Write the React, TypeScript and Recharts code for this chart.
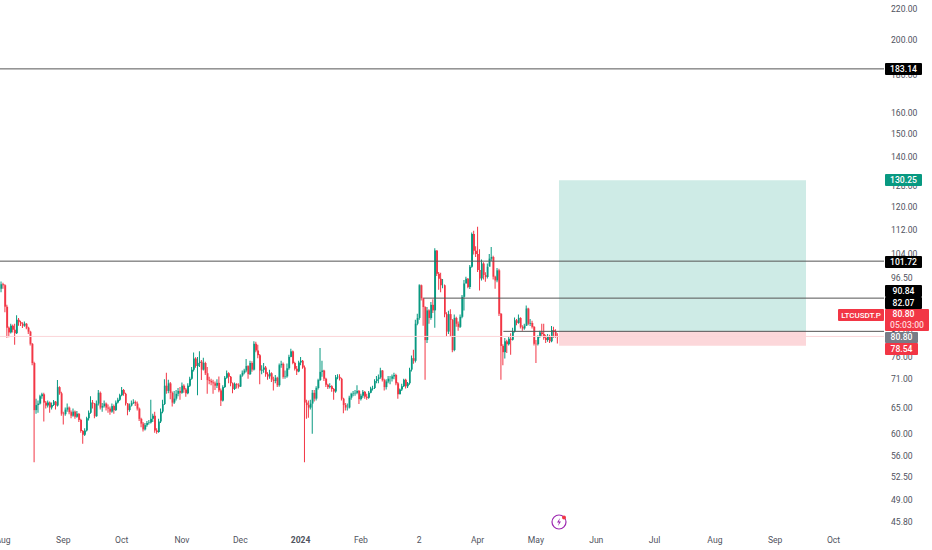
import React from "react";
import {
  ComposedChart,
  Bar,
  Cell,
  XAxis,
  YAxis,
  ReferenceLine,
  ReferenceArea,
} from "recharts";

const FIRST_OPEN = 93.5;

// daily closes
const closes = [
  94.8, 94.5, 88.5, 83.0, 81.8, 83.5, 82.5, 81.6, 85.0, 84.4,
  84.0, 83.5, 84.0, 83.0, 82.0, 79.0, 74.5, 64.5, 65.5, 65.8,
  67.3, 67.7, 66.0, 65.4, 66.0, 65.0, 65.5, 66.2, 65.4, 69.2,
  67.9, 63.8, 63.7, 64.6, 65.0, 64.1, 63.4, 64.2, 63.2, 63.8,
  62.6, 60.5, 59.8, 60.6, 62.9, 64.0, 66.0, 65.8, 63.3, 65.8,
  68.0, 65.0, 65.3, 65.8, 65.0, 64.8, 64.2, 65.3, 64.5, 66.0,
  66.6, 67.5, 68.6, 67.8, 65.8, 64.5, 65.4, 65.9, 66.1, 65.8,
  64.8, 62.8, 61.9, 60.8, 61.6, 62.0, 62.1, 62.8, 63.4, 60.6,
  60.3, 62.3, 64.2, 65.7, 69.5, 68.4, 70.0, 68.0, 66.0, 66.8,
  67.8, 68.4, 68.0, 69.5, 68.7, 67.9, 69.5, 71.0, 73.0, 75.5,
  73.8, 74.5, 74.8, 73.0, 74.5, 72.2, 70.7, 70.5, 70.2, 70.0,
  69.5, 70.1, 68.5, 66.4, 69.2, 71.2, 72.2, 71.4, 70.0, 68.8,
  69.9, 69.7, 69.3, 71.7, 72.3, 72.8, 73.8, 72.0, 74.5, 73.0,
  79.0, 77.4, 76.3, 72.8, 73.0, 73.5, 72.0, 71.5, 72.2, 70.8,
  70.5, 71.2, 69.6, 74.0, 74.3, 71.4, 71.5, 73.3, 75.9, 77.2,
  74.5, 73.2, 72.6, 74.6, 75.0, 73.5, 66.0, 65.5, 65.0, 65.8,
  68.0, 66.8, 69.0, 70.7, 72.5, 72.8, 71.0, 69.7, 69.2, 69.4,
  68.8, 68.3, 71.3, 71.4, 71.0, 66.8, 65.5, 65.0, 65.0, 67.0,
  67.8, 67.9, 68.0, 68.4, 66.7, 67.4, 68.2, 67.2, 67.0, 68.0,
  68.9, 69.0, 70.5, 70.9, 71.3, 72.8, 70.7, 69.2, 70.4, 71.0,
  71.0, 71.5, 71.8, 70.0, 67.7, 68.7, 69.4, 70.8, 69.4, 70.0,
  73.0, 75.6, 75.0, 84.0, 85.5, 94.5, 90.8, 88.4, 79.9, 87.5,
  85.5, 89.0, 87.5, 105.1, 97.9, 96.4, 94.5, 94.5, 86.5, 82.0,
  86.5, 85.0, 77.5, 85.5, 84.0, 83.2, 85.8, 91.2, 95.0, 96.4,
  94.0, 100.0, 110.5, 105.0, 104.0, 99.0, 96.5, 101.0, 97.5, 96.9,
  100.0, 102.5, 103.0, 97.0, 95.9, 98.9, 86.6, 78.5, 77.0, 79.6,
  78.9, 80.2, 80.0, 82.0, 84.9, 84.2, 85.5, 83.2, 82.8, 83.5,
  88.0, 84.0, 84.2, 83.2, 79.0, 78.9, 80.7, 81.8, 81.4, 80.5,
  79.9, 80.7, 79.6, 82.4, 82.0, 80.9, 80.8,
];

const highs = [
  95.6, 95.2, 94.8, 89, 83.3, 84, 83.8, 84, 86.2, 85.5,
  84.8, 84.4, 84.6, 84.2, 83.2, 82.2, 79.2, 74.8, 66.8, 66.4,
  67.6, 68, 68, 66.3, 66.4, 66.2, 66, 66.5, 66.3, 70.7,
  69.4, 68.2, 64.2, 65, 65.8, 65.2, 64.4, 64.8, 64.4, 64.3,
  63.9, 62.8, 60.7, 61, 63.2, 64.4, 67.3, 66.5, 65.9, 66.4,
  68.6, 68.3, 65.9, 66.4, 66, 65.6, 65.2, 65.8, 65.6, 66.4,
  67, 67.8, 69.2, 68.8, 68, 65.9, 65.8, 66.4, 66.7, 66.4,
  66.2, 65, 63, 62.2, 62, 62.4, 62.6, 66.6, 63.8, 64.2,
  61, 62.8, 64.8, 66.6, 70.9, 72.3, 70.8, 70.3, 68.3, 68.4,
  68.6, 69, 69.2, 70.2, 69.8, 69, 70, 71.4, 73.6, 76.9,
  75.8, 75.9, 77.2, 75.2, 75.7, 74.8, 73.6, 71.4, 71, 70.8,
  70.4, 70.9, 71.5, 68.9, 69.6, 71.6, 72.8, 72.4, 71.6, 70.2,
  70.2, 70, 70, 72, 72.8, 73.2, 75.4, 74, 75, 74.9,
  79.6, 79.5, 78.8, 76.6, 74, 74.5, 73.8, 72.4, 73, 72.4,
  71.4, 71.8, 71.4, 74.4, 75, 74.6, 72.8, 74.4, 76.4, 77.8,
  77.4, 74.8, 73.8, 75, 75.9, 75.2, 73.9, 66.6, 66.4, 66.6,
  68.6, 68.6, 69.4, 71, 78, 75, 73, 71.2, 69.9, 70,
  69.6, 69, 71.8, 72, 72, 71.2, 67, 65.9, 65.8, 67.4,
  68, 68.4, 68.6, 69.6, 68.6, 67.8, 68.6, 68.4, 67.8, 68.4,
  69.3, 69.5, 70.9, 71.6, 71.9, 73.4, 72.9, 71, 70.9, 71.6,
  71.6, 71.9, 72.3, 72.1, 70.3, 68.9, 69.9, 71, 71, 70.3,
  73.4, 76.2, 77.6, 85, 86.6, 94.8, 94.7, 91, 88.6, 88.4,
  87.8, 89.8, 90.5, 105.8, 105.2, 98.4, 98.2, 96.3, 94.7, 87,
  87.4, 87.8, 85.2, 86.4, 85.8, 84.6, 86.4, 91.7, 96, 97,
  96.6, 100.5, 111, 111.6, 106.5, 113, 105.5, 102.2, 101.4, 98.3,
  101, 104, 106.2, 103.4, 97.3, 99.6, 99.4, 86.8, 78.9, 80.4,
  80, 80.7, 81.6, 83, 85.6, 85.2, 86.4, 85.7, 83.6, 84,
  88.8, 88.2, 85.2, 84.8, 83.4, 79.9, 81.1, 82.2, 84, 84,
  81.2, 81.4, 81.2, 83.4, 83.2, 82.6, 81.6,
];

const lows = [
  92.5, 93.5, 87, 80.5, 80.6, 81.5, 81.8, 78.8, 81.4, 83.5,
  83.4, 82.9, 83.2, 82.6, 81.4, 78.6, 74, 55, 63.8, 64,
  65.6, 66.8, 62.3, 64.8, 65, 64, 64.6, 65.3, 64.6, 65.2,
  67.6, 63.4, 61.7, 63.4, 64.2, 63.7, 62.9, 63.2, 62.8, 63,
  62.2, 60.2, 58.2, 59.6, 60.4, 62.5, 63.8, 64.8, 62.9, 63.2,
  65.4, 64.6, 64.2, 65, 64.4, 64, 63.6, 64, 63.8, 64.3,
  65.8, 66.3, 67.3, 67.4, 65.4, 63.5, 64.2, 65.2, 65.7, 65.3,
  64.4, 62.4, 61.2, 60.4, 60.6, 61.3, 61.7, 61.9, 62.2, 60.2,
  60, 60.2, 62, 63.9, 65.5, 67.8, 67.9, 66.7, 65.2, 65.7,
  66.4, 67.3, 66.6, 67.8, 68, 67.2, 67.7, 69.2, 70.8, 72.6,
  73.4, 67.5, 73.6, 70.7, 72.8, 71.8, 67.8, 69.8, 69.6, 67.8,
  68.6, 69, 68.1, 65.3, 66.2, 69, 71, 70, 69.4, 67.9,
  68.6, 68.9, 68.9, 69.2, 71.4, 72, 72.4, 71, 71.8, 72.5,
  72.8, 77, 75.6, 69.8, 72, 72.3, 71.4, 70.8, 71, 70.3,
  68.5, 70, 69.2, 69.3, 73.4, 71, 71, 71.2, 73, 75.8,
  74.2, 72.8, 71.8, 72.4, 74, 73.2, 55, 62.8, 63, 64.6,
  60, 66.2, 66.4, 68.7, 70.5, 71.4, 70.5, 69.2, 68.8, 68.9,
  68.2, 66.6, 68, 70.9, 70.6, 66.4, 63.9, 64.4, 64.4, 64.8,
  66.6, 67.3, 67.4, 67.7, 65.7, 66.4, 67, 66.8, 66.6, 66.8,
  67.9, 68.5, 68.8, 70, 70, 71, 70.4, 68.5, 68.7, 70,
  69.8, 70.4, 70.9, 69.6, 66.8, 67.7, 68.4, 69.2, 68.9, 69,
  69.7, 72.6, 74.3, 74.6, 83.6, 85, 90.2, 83.5, 70.8, 79.2,
  84, 85, 86.8, 83, 97.2, 93.2, 92.5, 93.6, 85.7, 80.8,
  81.4, 80.8, 77, 77.2, 83.2, 82.2, 82.9, 85.4, 87.5, 95,
  93.6, 93.4, 99.7, 103.8, 103, 98.4, 93, 95.9, 96.2, 95.5,
  96.5, 100.2, 101.8, 96.2, 93.5, 95.4, 86, 70.8, 74, 75.5,
  76.8, 78.6, 76.4, 79.8, 81.8, 83.6, 84, 82.8, 82.2, 82.5,
  83.4, 83.6, 83.4, 82.8, 78.6, 74.5, 78.6, 80.5, 80.9, 80,
  79.2, 79.5, 79.2, 79.4, 80.5, 80.5, 79.1,
];

// x axis is days since 1 Aug 2023
const timeTicks = [0, 31, 61, 92, 122, 153, 184, 214, 244, 274, 305, 335, 366, 397, 427];
const timeLabels = ["Aug", "Sep", "Oct", "Nov", "Dec", "2024", "Feb", "2", "Apr", "May", "Jun", "Jul", "Aug", "Sep", "Oct"];

const priceTicks = [220, 200, 180, 160, 150, 140, 128, 120, 112, 104, 96.5, 88, 82, 76, 71, 65, 60, 56, 52.5, 49, 45.8];

const UP = "#089981";
const DOWN = "#F23645";
const FONT = "Roboto, sans-serif";

const candles = closes.map((close, i) => {
  const open = i === 0 ? FIRST_OPEN : closes[i - 1];
  return {
    day: i,
    wick: [lows[i], highs[i]],
    body: [Math.min(open, close), Math.max(open, close)],
    up: close >= open,
  };
});

const TimeTick = ({ x, y, payload }: any) => {
  const label = timeLabels[timeTicks.indexOf(payload.value)];
  return (
    <text
      x={x + 1.5}
      y={y}
      dy={5}
      textAnchor="middle"
      fontSize={8.6}
      fontWeight={label === "2024" ? 700 : 400}
      fill="#50535e"
      fontFamily={FONT}
    >
      {label}
    </text>
  );
};

const Badge = ({ top, left = 885, width = 37, height = 12, bg, color = "#fff", children }: any) => (
  <div
    style={{
      position: "absolute",
      top,
      left,
      width,
      height,
      background: bg,
      color,
      fontSize: 8.6,
      fontWeight: 500,
      lineHeight: height + "px",
      textAlign: "center",
      borderRadius: 1,
      fontFamily: FONT,
    }}
  >
    {children}
  </div>
);

export default function App() {
  return (
    <div style={{ position: "absolute", left: 0, top: 0, width: 932, height: 550, background: "#fff", overflow: "hidden" }}>
      <ComposedChart
        width={932}
        height={550}
        data={candles}
        margin={{ top: 1, right: 0, bottom: 0, left: 0 }}
      >
        <XAxis
          xAxisId="body"
          dataKey="day"
          type="number"
          domain={[-0.77, 453.7]}
          allowDataOverflow
          ticks={timeTicks}
          interval={0}
          height={20}
          axisLine={false}
          tickLine={false}
          tick={<TimeTick />}
        />
        <XAxis xAxisId="wick" dataKey="day" type="number" domain={[-0.77, 453.7]} allowDataOverflow hide />
        <YAxis
          orientation="right"
          type="number"
          scale="log"
          domain={[44.7, 225.4]}
          allowDataOverflow
          ticks={priceTicks}
          interval={0}
          width={48}
          axisLine={false}
          tickLine={false}
          tickSize={0}
          tickMargin={7}
          tick={{ fontSize: 8.6, fill: "#50535e", fontFamily: FONT }}
          tickFormatter={(v: number) => v.toFixed(2)}
        />

        <ReferenceLine xAxisId="body" y={80.8} stroke="#fbd5d9" strokeWidth={1} />
        <ReferenceArea xAxisId="body" x1={286.6} x2={413.6} y1={82.07} y2={130.25} fill={UP} fillOpacity={0.2} stroke="none" />
        <ReferenceArea xAxisId="body" x1={286.6} x2={413.6} y1={78.54} y2={82.07} fill={DOWN} fillOpacity={0.2} stroke="none" />

        <Bar xAxisId="wick" dataKey="wick" barSize={1} isAnimationActive={false}>
          {candles.map((c) => (
            <Cell key={c.day} fill={c.up ? UP : DOWN} />
          ))}
        </Bar>
        <Bar xAxisId="body" dataKey="body" barSize={2} isAnimationActive={false}>
          {candles.map((c) => (
            <Cell key={c.day} fill={c.up ? UP : DOWN} />
          ))}
        </Bar>

        <ReferenceLine xAxisId="body" y={183.14} stroke="#555" strokeWidth={1} />
        <ReferenceLine xAxisId="body" y={101.72} stroke="#555" strokeWidth={1} />
        <ReferenceLine
          xAxisId="body"
          segment={[{ x: 217, y: 90.84 }, { x: 453.7, y: 90.84 }]}
          stroke="#555"
          strokeWidth={1}
        />
        <ReferenceLine
          xAxisId="body"
          segment={[{ x: 258, y: 82.07 }, { x: 453.7, y: 82.07 }]}
          stroke="#555"
          strokeWidth={1}
        />
      </ComposedChart>

      <Badge top={63} bg="#000">183.14</Badge>
      <Badge top={174} bg={UP}>130.25</Badge>
      <Badge top={256} bg="#000">101.72</Badge>
      <Badge top={285} bg="#000">90.84</Badge>
      <Badge top={297} bg="#000">82.07</Badge>
      <Badge top={309} left={838} width={46} bg={DOWN}>
        <span style={{ fontSize: 8 }}>LTCUSDT.P</span>
      </Badge>
      <Badge top={309} width={44} height={22} bg={DOWN}>
        <div style={{ lineHeight: "11px", width: 37 }}>80.80</div>
        <div style={{ lineHeight: "11px", color: "#ffd5d9" }}>05:03:00</div>
      </Badge>
      <Badge top={332} width={33} height={11} bg="#787b86">80.80</Badge>
      <Badge top={343} width={33} bg={DOWN}>78.54</Badge>

      <svg style={{ position: "absolute", left: 550, top: 512 }} width={20} height={20} viewBox="0 0 20 20">
        <circle cx={9} cy={10} r={7} fill="none" stroke="#9c27b0" strokeWidth={1.2} />
        <path d="M10 6 L7 10.5 L9 10.5 L8 14 L11 9.5 L9 9.5 Z" fill="#9c27b0" />
        <circle cx={14} cy={5.5} r={2} fill="#f23645" />
      </svg>
    </div>
  );
}
